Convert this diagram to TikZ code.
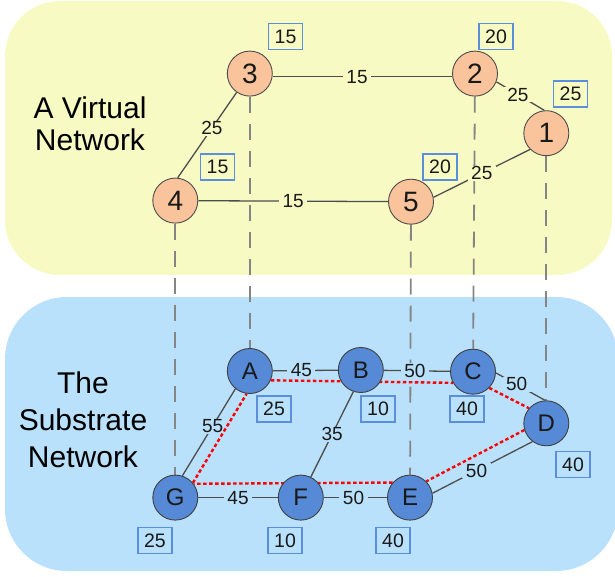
\documentclass[tikz,border=0pt]{standalone}
\usepackage{fontspec}
\setmainfont{Liberation Sans}

\pgfdeclarelayer{regions}
\pgfdeclarelayer{links}
\pgfsetlayers{regions,links,main}

\definecolor{vbg}{HTML}{F8FAC4}
\definecolor{sbg}{HTML}{BAE1FB}
\definecolor{vfill}{HTML}{F9C49B}
\definecolor{sfill}{HTML}{5689D6}
\definecolor{wbox}{HTML}{5B8FDD}
\definecolor{linkc}{HTML}{4D4D4D}
\definecolor{mapc}{HTML}{858585}

\tikzset{
  vnode/.style={circle, draw=black!70, line width=0.9pt, fill=vfill,
    minimum size=45pt, inner sep=0pt, text=black!90,
    font=\fontsize{28}{28}\selectfont},
  snode/.style={circle, draw=black!75, line width=0.9pt, fill=sfill,
    minimum size=45pt, inner sep=0pt, text=black!90,
    font=\fontsize{24}{24}\selectfont},
  weight/.style={draw=wbox, line width=1.5pt, minimum width=34pt,
    minimum height=26pt, inner sep=0pt, text=black!90,
    font=\fontsize{19.5}{19.5}\selectfont},
  link/.style={draw=linkc, line width=1.3pt},
  vlbl/.style={fill=vbg, inner xsep=3.5pt, inner ysep=1pt, text=black!90,
    font=\fontsize{19}{19}\selectfont},
  slbl/.style={vlbl, fill=sbg},
  mapline/.style={draw=mapc, line width=1.8pt, dash pattern=on 16pt off 11pt},
  embed/.style={draw=red, line width=2.4pt, dash pattern=on 3.5pt off 2.5pt},
  regiontext/.style={align=center, inner sep=0pt, text=black,
    font=\fontsize{30}{32}\selectfont},
}

\begin{document}
\begin{tikzpicture}[x=1pt, y=-1pt]
\useasboundingbox (0,0) rectangle (615,577);

% the two planes
\begin{pgfonlayer}{regions}
  \fill[vbg, rounded corners=55pt] (5,1) rectangle (612,275);
  \fill[sbg, rounded corners=62pt] (5,297) rectangle (618,571);
\end{pgfonlayer}

\node[regiontext, anchor=north] (vtitle) at (90,97) {A Virtual\\Network};
\node[regiontext, anchor=north, font=\fontsize{30}{37}\selectfont]
  (stitle) at (83,372) {The\\Substrate\\Network};

% virtual nodes
\node[vnode] (v1) at (546.3,133.2) {1};
\node[vnode] (v2) at (475,73.6) {2};
\node[vnode] (v3) at (249.8,73.6) {3};
\node[vnode] (v4) at (175.3,200.6) {4};
\node[vnode] (v5) at (411,201.7) {5};

% substrate nodes
\node[snode] (sA) at (249.8,371) {A};
\node[snode] (sB) at (360.8,370) {B};
\node[snode] (sC) at (473,371.7) {C};
\node[snode] (sD) at (546.3,423.3) {D};
\node[snode] (sE) at (410,497.6) {E};
\node[snode] (sF) at (300.8,497.6) {F};
\node[snode] (sG) at (175.3,497.6) {G};

% node demands
\node[weight] (w3) at (285.5,36.6) {15};
\node[weight] (w2) at (496,36.6) {20};
\node[weight] (w1) at (570.5,94) {25};
\node[weight] (w4) at (217.5,167) {15};
\node[weight] (w5) at (440,167) {20};

\node[weight] (wA) at (274,409) {25};
\node[weight] (wB) at (378,409) {10};
\node[weight] (wC) at (467,409) {40};
\node[weight] (wD) at (573,464.4) {40};
\node[weight] (wG) at (155,540.7) {25};
\node[weight] (wF) at (285,540.7) {10};
\node[weight] (wE) at (393,540.7) {40};

\begin{pgfonlayer}{links}
  % node mapping
  \draw[mapline] (v4) -- (sG);
  \draw[mapline] (v3) -- (sA);
  \draw[mapline] (v5) -- (sE);
  \draw[mapline] (v2) -- (sC);
  \draw[mapline] (v1) -- (sD);

  % virtual links
  \draw[link] (v3.-8) -- node[vlbl, pos=.47] {15} (v2.188);
  \draw[link] (v2.-21) -- node[vlbl, pos=.45] {25} (v1.95);
  \draw[link] (v3.235) -- node[vlbl, pos=.42] {25} (v4.84);
  \draw[link] (v4) -- node[vlbl, pos=.5] {15} (v5);
  \draw[link] (v5.11) -- node[vlbl, pos=.5] {25} (v1.225);

  % substrate links
  \draw[link] (sA) -- node[slbl, pos=.44] {45} (sB);
  \draw[link] (sB) -- node[slbl, pos=.47] {50} (sC);
  \draw[link] (sC.-3) -- node[slbl, pos=.42] {50} (sD.93);
  \draw[link] (sG.72) -- node[slbl, pos=.57] {55} (sA.231);
  \draw[link] (sB.251) -- node[slbl, pos=.5] {35} (sF.64);
  \draw[link] (sG) -- node[slbl, pos=.5] {45} (sF);
  \draw[link] (sF) -- node[slbl, pos=.47] {50} (sE);
  \draw[link] (sE.11) -- node[slbl, pos=.44] {50} (sD.233);

  % embedded paths
  \draw[embed] (sG.40) -- (sA.262);
  \draw[embed] (sA.336) -- (sC.209);
  \draw[embed] (sC.315) -- (sD.139);
  \draw[embed] (sD.197) -- (sE.45);
  \draw[embed] (sE.139) -- (sG.37);
\end{pgfonlayer}
\end{tikzpicture}
\end{document}
